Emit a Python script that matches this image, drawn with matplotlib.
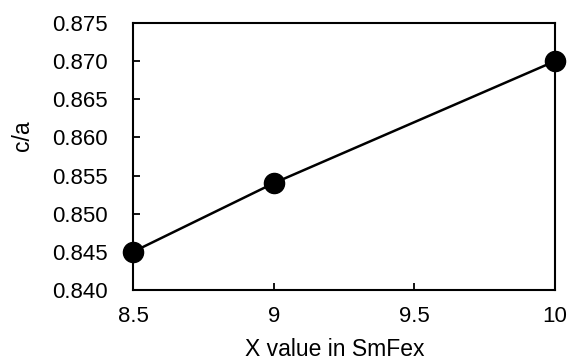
import matplotlib
matplotlib.use("Agg")
import matplotlib.pyplot as plt

x_values = [8.5, 9, 10]
ca_values = [0.845, 0.854, 0.870]
x_ticks = [8.5, 9, 9.5, 10]
x_tick_labels = ["8.5", "9", "9.5", "10"]
y_ticks = [0.840, 0.845, 0.850, 0.855, 0.860, 0.865, 0.870, 0.875]
y_tick_labels = ["0.840", "0.845", "0.850", "0.855", "0.860", "0.865", "0.870", "0.875"]

plt.rcParams['font.family'] = ['Liberation Sans', 'DejaVu Sans']

fig = plt.figure(figsize=(5.7, 3.6), dpi=100)
ax = fig.add_axes([133/570, 1 - 290/360, (555-133)/570, (290-23)/360])
ax.plot(x_values, ca_values, color='black', linewidth=1.8, marker='o',
        markersize=14.5, markerfacecolor='black', markeredgecolor='black',
        clip_on=False, zorder=3)
ax.set_xlim(8.5, 10)
ax.set_ylim(0.840, 0.875)
ax.set_xticks(x_ticks)
ax.set_xticklabels(x_tick_labels)
ax.set_yticks(y_ticks)
ax.set_yticklabels(y_tick_labels)
ax.tick_params(direction='in', length=5, width=1.3, labelsize=16, color='black')
ax.tick_params(axis='y', pad=18)
ax.tick_params(axis='x', pad=11.5)
for s in ax.spines.values():
    s.set_linewidth(1.5)
    s.set_color('black')
ax.set_xlabel("X value in SmFex", fontsize=16.5, va='center')
ax.xaxis.set_label_coords((335-133)/422, (290-350)/267)
ax.set_ylabel("c/a", fontsize=16.5, va='center')
ax.yaxis.set_label_coords((22-133)/422, (290-135.5)/267)
fig.savefig("out.png", dpi=100)
